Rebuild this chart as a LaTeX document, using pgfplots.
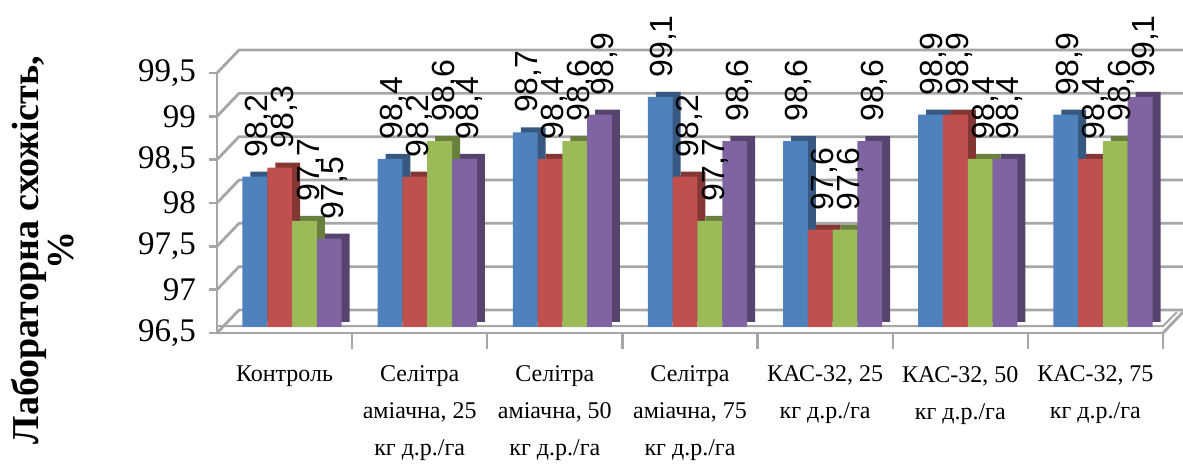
\documentclass[border=0pt]{standalone}
\usepackage{fontspec}
\setmainfont{Liberation Serif}
\newfontfamily\labfont{Liberation Sans}
\usepackage{pgfplots}
\pgfplotsset{compat=1.18}
\definecolor{sblue}{HTML}{4F81BD}
\definecolor{sred}{HTML}{C0504D}
\definecolor{sgreen}{HTML}{9BBB59}
\definecolor{spurple}{HTML}{8064A2}
\definecolor{gridc}{HTML}{A6A6A6}
\begin{document}
\begin{tikzpicture}
% ---- frame, walls and axes ----
\begin{axis}[
  scale only axis,
  width=473pt, height=130pt,
  ymin=96.5, ymax=99.5,
  ytick={96.5,97,...,99.5},
  xmin=-0.5, xmax=6.5,
  xtick={0,...,6},
  minor xtick={0.5,1.5,...,6.5},
  xticklabels={Контроль,{Селітра\\аміачна, 25\\кг д.р./га},{Селітра\\аміачна, 50\\кг д.р./га},{Селітра\\аміачна, 75\\кг д.р./га},{КАС-32, 25\\кг д.р./га},{КАС-32, 50\\кг д.р./га},{КАС-32, 75\\кг д.р./га}},
  xticklabel style={align=center, font=\fontsize{12}{18.5}\selectfont, anchor=north, yshift=-9pt},
  yticklabel style={font=\fontsize{16.5}{16.5}\selectfont, xshift=-3pt},
  /pgf/number format/assume math mode=true,
  /pgf/number format/use comma,
  axis x line*=bottom, axis y line*=left,
  axis line style={gridc, line width=1.4pt},
  major tick style={gridc, line width=1.4pt},
  minor tick style={gridc, line width=1.2pt},
  tick align=outside,
  major tick length=4pt,
  minor tick length=8pt,
  x tick style={draw=none},
  minor x tick style={draw=gridc},
  ylabel={Лабораторна схожість,\\\%},
  ylabel style={font=\bfseries\fontsize{19}{15}\selectfont, align=center, at={(axis description cs:-0.184,0.319)}, anchor=center},
  clip=false,
]
\pgfplotsinvokeforeach{96.5,97,97.5,98,98.5,99,99.5}{
  \draw[gridc, line width=1.4pt] (axis cs:-0.5,#1) -- ++(11pt,11.5pt) -- ([xshift=11pt,yshift=11.5pt]axis cs:6.5,#1);
}
\draw[gridc, line width=1.4pt] (axis cs:6.5,96.5) -- ++(11pt,11.5pt);
\draw[gridc, line width=1pt] ([yshift=3.5pt]axis cs:-0.5,96.5) -- ([yshift=3.5pt]axis cs:6.5,96.5) -- ++(7pt,7pt);
\end{axis}
% ---- bars (front plane of the 3-D box) ----
\begin{axis}[
  scale only axis,
  width=473pt, height=132.75pt,
  xshift=3.75pt, yshift=3pt,
  ymin=96.5, ymax=99.5,
  xmin=-0.5, xmax=6.5,
  hide axis,
  clip=false,
  /pgf/number format/assume math mode=true,
  /pgf/number format/use comma,
  /pgf/number format/fixed,
  /pgf/number format/precision=1,
  every node near coord/.append style={rotate=90, anchor=west, inner xsep=9.5pt, font=\labfont\fontsize{16}{16}\selectfont},
]
% depth faces
\addplot[ybar, bar width=12.4pt, bar shift=-18.6pt, fill=sblue!68!black, draw=none, xshift=4pt, yshift=2.5pt] coordinates {(0,98.2) (1,98.4) (2,98.7) (3,99.1) (4,98.6) (5,98.9) (6,98.9)};
\addplot[ybar, bar width=12.4pt, bar shift=-6.2pt, fill=sred!68!black, draw=none, xshift=4pt, yshift=2.5pt] coordinates {(0,98.3) (1,98.2) (2,98.4) (3,98.2) (4,97.6) (5,98.9) (6,98.4)};
\addplot[ybar, bar width=12.4pt, bar shift=6.2pt, fill=sgreen!68!black, draw=none, xshift=4pt, yshift=2.5pt] coordinates {(0,97.7) (1,98.6) (2,98.6) (3,97.7) (4,97.6) (5,98.4) (6,98.6)};
\addplot[ybar, bar width=12.4pt, bar shift=18.6pt, fill=spurple!68!black, draw=none, xshift=4pt, yshift=2.5pt] coordinates {(0,97.5) (1,98.4) (2,98.9) (3,98.6) (4,98.6) (5,98.4) (6,99.1)};
% front faces with value labels
\addplot[ybar, bar width=12.4pt, bar shift=-18.6pt, fill=sblue, draw=none, every node near coord/.prefix style={xshift=-17pt}, nodes near coords] coordinates {(0,98.2) (1,98.4) (2,98.7) (3,99.1) (4,98.6) (5,98.9) (6,98.9)};
\addplot[ybar, bar width=12.4pt, bar shift=-6.2pt, fill=sred, draw=none, every node near coord/.prefix style={xshift=-4pt}, nodes near coords] coordinates {(0,98.3) (1,98.2) (2,98.4) (3,98.2) (4,97.6) (5,98.9) (6,98.4)};
\addplot[ybar, bar width=12.4pt, bar shift=6.2pt, fill=sgreen, draw=none, every node near coord/.prefix style={xshift=9pt}, nodes near coords] coordinates {(0,97.7) (1,98.6) (2,98.6) (3,97.7) (4,97.6) (5,98.4) (6,98.6)};
\addplot[ybar, bar width=12.4pt, bar shift=18.6pt, fill=spurple, draw=none, every node near coord/.prefix style={xshift=21pt}, nodes near coords] coordinates {(0,97.5) (1,98.4) (2,98.9) (3,98.6) (4,98.6) (5,98.4) (6,99.1)};
\end{axis}
\pgfresetboundingbox
\path (-108.5pt,-66.5pt) rectangle (483pt,166.5pt);
\end{tikzpicture}
\end{document}
